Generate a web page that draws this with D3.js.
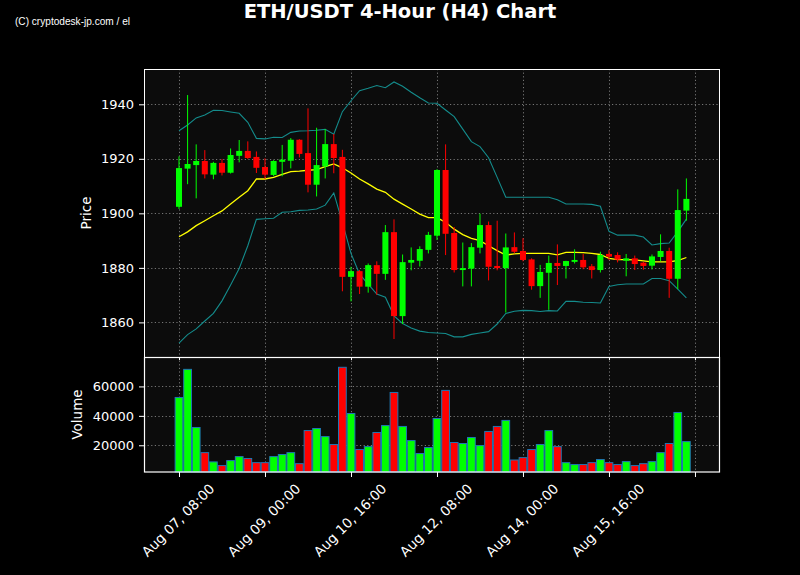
<!DOCTYPE html>
<html><head><meta charset="utf-8">
<script src="https://cdn.jsdelivr.net/npm/d3@7"></script>
<style>body{margin:0;background:#000}svg{display:block}</style>
</head><body><svg id="c" width="800" height="575"></svg>
<script>
// ---- data ----
const opens  = [1902.4,1916.4,1917.7,1919.2,1914.2,1918.5,1914.9,1921.1,1922.9,1920.7,1917.0,1914.1,1918.9,1919.3,1927.0,1922.1,1910.5,1917.2,1925.4,1920.7,1876.7,1878.8,1873.1,1881.0,1877.8,1893.1,1862.3,1881.9,1882.6,1886.6,1891.8,1915.9,1892.8,1879.2,1879.7,1887.4,1895.7,1880.7,1879.9,1887.6,1886.2,1883.1,1873.3,1878.2,1881.8,1880.7,1882.2,1882.9,1880.6,1879.2,1885.1,1884.7,1882.6,1883.5,1881.9,1880.8,1884.0,1886.2,1876.0,1901.0];
const highs  = [1920.9,1943.4,1925.3,1923.2,1918.9,1919.9,1923.8,1926.9,1926.4,1922.7,1920.2,1919.5,1925.1,1927.6,1927.2,1938.5,1931.4,1930.9,1929.1,1923.3,1880.4,1879.2,1881.6,1882.4,1895.7,1897.8,1884.9,1887.5,1887.9,1893.2,1916.2,1925.3,1895.0,1889.3,1889.1,1899.9,1897.0,1897.3,1892.6,1893.0,1890.9,1883.5,1881.1,1884.5,1888.6,1882.6,1886.8,1885.1,1881.4,1885.9,1886.5,1885.7,1885.1,1884.5,1882.2,1884.9,1892.3,1887.4,1908.8,1912.8];
const lows   = [1901.6,1910.7,1905.5,1912.8,1912.5,1913.9,1914.6,1918.7,1919.9,1914.8,1912.6,1913.6,1913.6,1916.5,1920.5,1907.7,1906.2,1912.8,1914.7,1871.4,1867.7,1870.4,1870.9,1870.1,1875.6,1853.9,1859.4,1879.1,1880.5,1885.3,1890.2,1884.7,1878.3,1873.2,1873.2,1885.3,1875.4,1879.1,1863.6,1885.3,1882.4,1872.0,1869.0,1864.6,1873.7,1876.1,1881.6,1879.5,1876.1,1878.3,1882.9,1882.0,1876.9,1879.2,1879.3,1879.4,1882.4,1869.0,1872.2,1897.3];
const closes = [1916.6,1918.1,1919.2,1914.3,1918.5,1914.9,1921.4,1922.9,1920.3,1916.7,1914.2,1919.2,1919.7,1927.0,1921.8,1910.5,1917.7,1925.4,1920.3,1876.7,1878.8,1873.1,1881.0,1877.8,1893.1,1862.3,1882.1,1882.9,1886.9,1892.1,1915.9,1892.5,1879.2,1879.9,1887.6,1895.7,1880.4,1879.9,1887.5,1885.9,1882.9,1873.3,1878.5,1881.8,1880.7,1882.5,1882.9,1880.2,1879.2,1884.7,1884.1,1883.0,1883.5,1881.4,1880.7,1884.2,1886.2,1876.0,1901.2,1905.3];
const volumes = [52500,71600,32100,15000,8700,6200,9600,12300,11000,8200,8200,12300,13700,15000,7500,30000,31400,25900,20500,73000,41600,17100,19100,28700,33400,55900,32800,23200,14400,18500,38200,57300,21900,21200,25300,19800,29400,32800,36900,10000,11600,17100,20500,30000,19100,8200,6900,6900,8200,10300,8200,6900,8900,6200,7500,8900,15000,21200,42300,22500];
const sma20   = [1891.4,1893.2,1895.5,1897.3,1899.1,1900.9,1903.4,1905.9,1908.3,1912.6,1912.6,1913.2,1914.3,1915.3,1915.5,1915.8,1916.0,1917.1,1918.1,1916.7,1914.8,1912.6,1910.8,1908.9,1907.7,1905.2,1903.4,1901.6,1899.7,1898.4,1898.4,1896.7,1894.2,1892.2,1890.8,1890.0,1888.1,1886.3,1884.7,1885.1,1885.3,1885.3,1885.3,1885.3,1884.8,1885.7,1885.7,1885.6,1885.3,1884.9,1883.5,1883.0,1883.0,1882.9,1882.6,1882.2,1882.2,1882.2,1882.7,1883.8];
const bbUpper = [1930.3,1932.4,1935.0,1936.1,1937.8,1937.7,1937.2,1936.7,1933.4,1927.5,1927.3,1927.9,1927.8,1929.7,1930.2,1930.3,1930.5,1930.8,1929.0,1937.3,1941.3,1945.0,1945.9,1946.9,1946.1,1948.2,1946.6,1944.4,1942.4,1940.5,1940.4,1937.9,1935.5,1930.9,1926.3,1924.5,1920.4,1913.2,1905.9,1905.9,1905.9,1905.9,1905.9,1905.9,1905.0,1903.4,1903.4,1903.4,1903.3,1902.6,1893.4,1892.0,1892.0,1892.0,1891.3,1888.4,1888.9,1889.1,1893.3,1897.9];
const bbLower = [1852.4,1855.5,1857.6,1860.5,1863.3,1867.9,1873.7,1879.8,1888.1,1897.8,1898.0,1898.2,1900.4,1900.6,1901.1,1901.2,1901.6,1903.0,1907.5,1896.7,1885.3,1877.7,1874.0,1870.4,1869.2,1862.4,1859.6,1857.9,1856.8,1856.3,1856.1,1855.9,1854.7,1854.7,1855.6,1856.1,1856.6,1859.4,1863.3,1864.1,1864.4,1864.3,1864.0,1864.3,1864.2,1867.7,1867.7,1867.4,1867.3,1867.1,1873.2,1873.8,1874.1,1874.1,1874.1,1876.1,1876.1,1875.3,1872.2,1869.0];
const xTickIndex  = [0,10,20,30,40,50,60];
const xTickLabels = ["Aug 07, 08:00","Aug 09, 00:00","Aug 10, 16:00","Aug 12, 08:00","Aug 14, 00:00","Aug 15, 16:00",""];
const priceTicks  = [1860,1880,1900,1920,1940];
const volumeTicks = [20000,40000,60000];

// ---- layout ----
const svg = d3.select("#c");
const L = 144, R = 720, PT = 69, PB = 357, VT = 357, VB = 472;
const FONT = "DejaVu Sans, sans-serif";
const GREEN = "#00ff00", RED = "#ff0000";

svg.append("rect").attr("width",800).attr("height",575).attr("fill","#000");

const x  = d3.scaleLinear().domain([-4.07, 62.91]).range([L, R]);
const yP = d3.scaleLinear().domain([1847.3, 1952.95]).range([PB, PT]);
const yV = d3.scaleLinear().domain([1840, 80000]).range([VB, VT]);
const step = x(1) - x(0);

// panel backgrounds
svg.append("rect").attr("x",L).attr("y",PT).attr("width",R-L).attr("height",PB-PT).attr("fill","#0c0c0c");
svg.append("rect").attr("x",L).attr("y",VT).attr("width",R-L).attr("height",VB-VT).attr("fill","#0c0c0c");

// grid
const grid = svg.append("g").attr("stroke","#9a9a9a").attr("stroke-opacity",0.75).attr("stroke-width",1).attr("stroke-dasharray","1.2,2.4");
xTickIndex.forEach(i=>{
  const xx = Math.round(x(i))+0.5;
  grid.append("line").attr("x1",xx).attr("x2",xx).attr("y1",PT).attr("y2",PB);
  grid.append("line").attr("x1",xx).attr("x2",xx).attr("y1",VT).attr("y2",VB);
});
priceTicks.forEach(v=>{
  const yy = Math.round(yP(v))+0.5;
  grid.append("line").attr("x1",L).attr("x2",R).attr("y1",yy).attr("y2",yy);
});
volumeTicks.forEach(v=>{
  const yy = Math.round(yV(v))+0.5;
  grid.append("line").attr("x1",L).attr("x2",R).attr("y1",yy).attr("y2",yy);
});

// bollinger + sma
const line = arr => d3.line().x((d,i)=>x(i)).y(d=>yP(d))(arr);
svg.append("clipPath").attr("id","cp").append("rect").attr("x",L).attr("y",PT).attr("width",R-L).attr("height",PB-PT);
const pg = svg.append("g").attr("clip-path","url(#cp)");
pg.append("path").attr("d",line(bbUpper)).attr("fill","none").attr("stroke","#148c8c").attr("stroke-width",1.1);
pg.append("path").attr("d",line(bbLower)).attr("fill","none").attr("stroke","#148c8c").attr("stroke-width",1.1);
pg.append("path").attr("d",line(sma20)).attr("fill","none").attr("stroke","#ffff00").attr("stroke-width",1.3);

// candles
const bw = step*0.7;
closes.forEach((c,i)=>{
  const o = opens[i], up = c >= o, col = up ? GREEN : RED;
  const cx = x(i);
  pg.append("line").attr("x1",cx).attr("x2",cx).attr("y1",yP(highs[i])).attr("y2",yP(lows[i])).attr("stroke",col).attr("stroke-width",1);
  const top = yP(Math.max(o,c)), bot = yP(Math.min(o,c));
  pg.append("rect").attr("x",cx-bw/2).attr("y",top).attr("width",bw).attr("height",Math.max(1,bot-top)).attr("fill",col);
});

// volume bars
const vw = step*0.9;
volumes.forEach((v,i)=>{
  const up = closes[i] >= opens[i];
  svg.append("rect").attr("x",x(i)-vw/2).attr("y",yV(v)).attr("width",vw).attr("height",VB-yV(v))
    .attr("fill", up?GREEN:RED).attr("stroke","#1f77b4").attr("stroke-width",1);
});

// spines
svg.append("rect").attr("x",L+0.5).attr("y",PT+0.5).attr("width",R-L-1).attr("height",PB-PT).attr("fill","none").attr("stroke","#fff").attr("stroke-width",1);
svg.append("rect").attr("x",L+0.5).attr("y",VT+0.5).attr("width",R-L-1).attr("height",VB-VT-0.5).attr("fill","none").attr("stroke","#fff").attr("stroke-width",1.2);

// axes
function styleAxis(g){
  g.select(".domain").remove();
  g.selectAll(".tick line").attr("stroke","#fff");
  g.selectAll(".tick text").attr("fill","#fff").style("font-family",FONT).style("font-size","13px");
}
svg.append("g").attr("transform",`translate(${L},0)`)
  .call(d3.axisLeft(yP).tickValues(priceTicks).tickFormat(d3.format("d")).tickSize(5).tickPadding(5)).call(styleAxis);
svg.append("g").attr("transform",`translate(${L},0)`)
  .call(d3.axisLeft(yV).tickValues(volumeTicks).tickFormat(d3.format("d")).tickSize(5).tickPadding(5)).call(styleAxis);

// small ticks under price panel
svg.append("g").attr("transform",`translate(0,${PB})`)
  .call(d3.axisBottom(x).tickValues(xTickIndex).tickFormat("").tickSize(3)).call(styleAxis);

const xa = svg.append("g").attr("transform",`translate(0,${VB})`)
  .call(d3.axisBottom(x).tickValues(xTickIndex).tickFormat("").tickSize(5));
styleAxis(xa);
xTickIndex.forEach((ti,k)=>{
  if(!xTickLabels[k]) return;
  svg.append("text").attr("transform",`translate(${x(ti)-1},520) rotate(-45)`)
    .attr("text-anchor","middle").attr("dominant-baseline","central")
    .attr("fill","#fff").style("font-family",FONT).style("font-size","13.6px")
    .text(xTickLabels[k]);
});

// axis labels
svg.append("text").attr("transform",`translate(91,${(PT+PB)/2}) rotate(-90)`).attr("text-anchor","middle")
  .attr("fill","#fff").style("font-family",FONT).style("font-size","13.5px").text("Price");
svg.append("text").attr("transform",`translate(82,${(VT+VB)/2}) rotate(-90)`).attr("text-anchor","middle")
  .attr("fill","#fff").style("font-family",FONT).style("font-size","13.5px").text("Volume");

// title + watermark
svg.append("text").attr("x",400).attr("y",17.5).attr("text-anchor","middle").attr("fill","#fff")
  .style("font-family",FONT).style("font-weight","bold").style("font-size","19.5px").text("ETH/USDT 4-Hour (H4) Chart");
svg.append("text").attr("x",15).attr("y",25).attr("fill","#fff")
  .style("font-family","Liberation Sans, Arial, sans-serif").style("font-size","11.5px")
  .attr("textLength",115).attr("lengthAdjust","spacingAndGlyphs").text("(C) cryptodesk-jp.com / el");
</script>
</body></html>
